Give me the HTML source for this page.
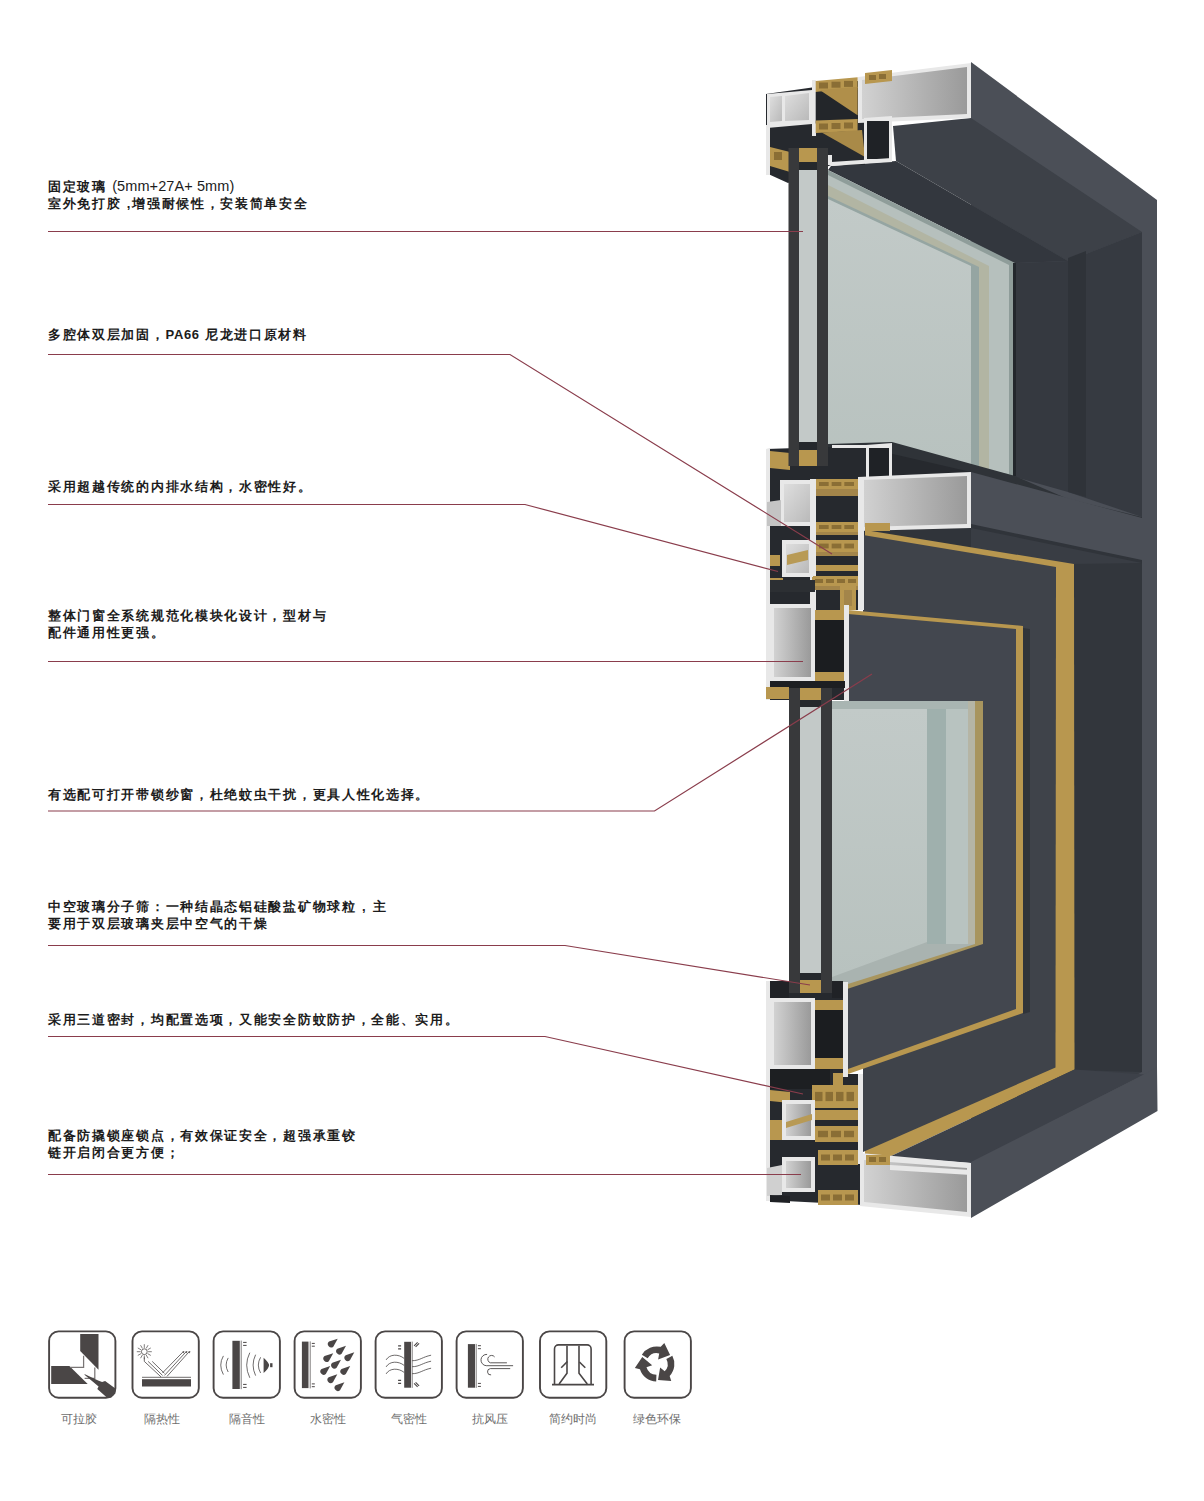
<!DOCTYPE html>
<html><head><meta charset="utf-8">
<style>
html,body{margin:0;padding:0;background:#fff;}
body{width:1204px;height:1501px;position:relative;overflow:hidden;font-family:"Liberation Sans",sans-serif;}
.t{position:absolute;left:48px;font-size:13px;font-weight:bold;color:#1c1c1c;line-height:17px;white-space:nowrap;letter-spacing:1.7px;}
.t span{font-weight:normal;letter-spacing:0.1px;font-size:14.5px;}
.lab{position:absolute;top:1410.5px;font-size:12px;color:#6e6e6e;white-space:nowrap;text-align:center;width:90px;line-height:16px;}
svg{position:absolute;left:0;top:0;}
</style></head><body>
<svg width="1204" height="1501" viewBox="0 0 1204 1501">
<g id="window">
<defs>
<linearGradient id="gw" x1="0" y1="0" x2="1" y2="1"><stop offset="0" stop-color="#dedede"/><stop offset="1" stop-color="#b9b9b9"/></linearGradient>
<linearGradient id="gb" x1="0" y1="0" x2="1" y2="0"><stop offset="0" stop-color="#d2d2d2"/><stop offset="0.6" stop-color="#b0b0b0"/><stop offset="1" stop-color="#9a9a9a"/></linearGradient>
<linearGradient id="gg" x1="0" y1="0" x2="0" y2="1"><stop offset="0" stop-color="#c2cac8"/><stop offset="1" stop-color="#b8c2bf"/></linearGradient>
</defs>
<polygon points="971,62 1157,200 1157,1109 971,1217" fill="#4b4f57" />
<polygon points="893,126 971,118 1142,232 1068,261 896,161" fill="#3d4148" />
<polygon points="831,166 896,161 1068,261 1015,263 828,170" fill="#33373e" />
<polygon points="1068,261 1142,232 1142,517 1068,492" fill="#363a41" />
<polygon points="1068,258 1086,251 1086,497 1068,492" fill="#2f3339" />
<polygon points="1015,263 1068,261 1068,492 1015,477" fill="#353940" />
<polygon points="828,170 1015,263 1015,476 828,445" fill="#8f9d9a" />
<polygon points="828,175 1009,265 1009,474 828,445" fill="#b6c0bd" />
<polygon points="828,185 989,266 989,470 828,445" fill="#b2b5a3" />
<polygon points="828,196 979,267 979,468 828,445" fill="#95a5a2" />
<polygon points="828,199 971,266 971,466 828,445" fill="url(#gg)" />
<rect x="1013" y="263" width="3" height="213" fill="#23272c" />
<polygon points="828,444 892,442 1015,476 1068,499 1142,517 1142,520 971,474 858,447 828,447" fill="#2f3338" />
<polygon points="971,472 1142,518 1157,518 1157,563 1142,563 971,528" fill="#4b4f57" />
<polygon points="856,526 971,524 1142,560 1142,600 856,560" fill="#30343a" />
<polygon points="971,528 1142,563 1142,1072 971,1163" fill="#393d44" />
<polygon points="1074,564 1142,563 1142,1072 1074,1070" fill="#32363c" />
<polygon points="865,530 1074,564 1074.5,1069.5 889,1157 865,1157" fill="#b8974f" />
<polygon points="863,535 1056,567 1055.5,1067.5 863,1152" fill="#3f434a" />
<polygon points="848,610 1023,626 1023,1013 848,1074" fill="#b8974f" />
<polygon points="848,614 1016,629 1016,1009 848,1069" fill="#43474f" />
<polygon points="1023,628 1030,629 1030,1012 1023,1014" fill="#30343a" />
<polygon points="832,701 983,701 983,944 832,994" fill="#a8955e" />
<polygon points="832,701 975,701 975,944 832,989" fill="#a9b3b0" />
<polygon points="968,701 975,701 975,944 968,944" fill="#b5b5a5" />
<polygon points="946,709 968,709 968,944 946,944" fill="#b8c3c0" />
<polygon points="927,709 946,709 946,944 927,944" fill="#9fb0ad" />
<polygon points="832,701 968,701 968,709 832,709" fill="#a9b5b2" />
<polygon points="832,709 927,709 927,942 832,977" fill="url(#gg)" />
<polygon points="889,1157 1074.5,1069.5 1144,1074.5 971,1163" fill="#3d4149" />
<polygon points="971,1162 1144,1074.5 1157,1067 1157.5,1111 971,1218" fill="#4b4f57" />
<polygon points="766,94 865,80 865,165 831,165 788,183 766,173" fill="#26292e" />
<polygon points="767,94 812,90 812,124 767,128" fill="#e8e8e8" />
<polygon points="770,97 782,96 782,121 770,122" fill="url(#gw)" />
<polygon points="785,96 809,93 809,120 785,121" fill="url(#gw)" />
<rect x="812" y="80" width="4" height="56" fill="#e8e8e8" />
<polygon points="815.7,81 857.6,77.3 857.6,90 815.7,92" fill="#b8974f" />
<rect x="819.0" y="82.5" width="9" height="6" fill="#8a6e35" />
<rect x="831.5" y="81.7" width="9" height="6" fill="#8a6e35" />
<rect x="844.0" y="80.9" width="9" height="6" fill="#8a6e35" />
<polygon points="815.7,92 857.6,88 857.6,121 815.7,123.5" fill="#23262a" />
<polygon points="819.7,90 857.6,86.7 857.6,115.3" fill="#b08f4a" />
<polygon points="815.7,120.6 857.6,119 857.6,131 815.7,133" fill="#b8974f" />
<rect x="819.0" y="123.5" width="9" height="6" fill="#8a6e35" />
<rect x="831.5" y="123.0" width="9" height="6" fill="#8a6e35" />
<rect x="844.0" y="122.5" width="9" height="6" fill="#8a6e35" />
<polygon points="821.7,132.6 862,130 865,157" fill="#a98a48" />
<polygon points="858,77 971,63 971,118 858,123" fill="#e8e8e8" />
<polygon points="862,80 967,67 967,114 862,119" fill="url(#gb)" />
<polygon points="865,73 892,70 892,81 865,84" fill="#b8974f" />
<rect x="869" y="75" width="7" height="5" fill="#8a6e35" />
<rect x="879" y="74" width="7" height="5" fill="#8a6e35" />
<polygon points="864,118 892,116 892,161 864,163" fill="#e8e8e8" />
<rect x="867" y="121" width="22" height="38" fill="#1f2226" />
<polygon points="831,162 892,158 892,162 831,166" fill="#e8e8e8" />
<rect x="828" y="155" width="4" height="10" fill="#e8e8e8" />
<rect x="766" y="125" width="4" height="50" fill="#e8e8e8" />
<polygon points="770,147 790,152 790,172 770,166" fill="#b8974f" />
<rect x="774" y="152" width="8" height="8" fill="#8a6e35" />
<polygon points="766,449 858,446 971,472 971,528 863,531 863,610 848,610 844,700 766,700" fill="#26292e" />
<rect x="766" y="449" width="4" height="251" fill="#e8e8e8" />
<polygon points="770,451 790,453 790,470 770,468" fill="#b8974f" />
<polygon points="866,445 892,443 892,485 866,485" fill="#e8e8e8" />
<rect x="869" y="448" width="20" height="34" fill="#1f2226" />
<polygon points="832,445 866,445 866,448 832,448" fill="#e8e8e8" />
<polygon points="858,477 971,472 971,528 858,531" fill="#e8e8e8" />
<polygon points="862,480 967,476 967,524 862,527" fill="url(#gb)" />
<polygon points="865,523 890,523 890,531 865,531" fill="#b8974f" />
<rect x="780" y="480" width="35" height="46" fill="#e8e8e8" />
<rect x="784" y="484" width="27" height="38" fill="url(#gw)" />
<rect x="810" y="479" width="6" height="131" fill="#e8e8e8" />
<rect x="858" y="477" width="6" height="133" fill="#e8e8e8" />
<rect x="816" y="479" width="42" height="10" fill="#b8974f" />
<rect x="819.0" y="482.0" width="9.666666666666666" height="4.0" fill="#8a6e35" />
<rect x="831.6666666666666" y="482.0" width="9.666666666666666" height="4.0" fill="#8a6e35" />
<rect x="844.3333333333334" y="482.0" width="9.666666666666666" height="4.0" fill="#8a6e35" />
<rect x="816" y="489" width="42" height="7" fill="#a3854a" />
<rect x="816" y="522" width="42" height="10" fill="#b8974f" />
<rect x="819.0" y="525.0" width="9.666666666666666" height="4.0" fill="#8a6e35" />
<rect x="831.6666666666666" y="525.0" width="9.666666666666666" height="4.0" fill="#8a6e35" />
<rect x="844.3333333333334" y="525.0" width="9.666666666666666" height="4.0" fill="#8a6e35" />
<rect x="816" y="532" width="42" height="3" fill="#a3854a" />
<rect x="816" y="540" width="42" height="12" fill="#b8974f" />
<rect x="819.0" y="543.6" width="9.666666666666666" height="4.800000000000001" fill="#8a6e35" />
<rect x="831.6666666666666" y="543.6" width="9.666666666666666" height="4.800000000000001" fill="#8a6e35" />
<rect x="844.3333333333334" y="543.6" width="9.666666666666666" height="4.800000000000001" fill="#8a6e35" />
<rect x="816" y="552" width="42" height="4" fill="#a3854a" />
<rect x="816" y="565" width="42" height="6" fill="#b8974f" />
<rect x="812" y="576" width="48" height="10" fill="#b8974f" />
<rect x="815.0" y="579.0" width="8.0" height="4.0" fill="#8a6e35" />
<rect x="826.0" y="579.0" width="8.0" height="4.0" fill="#8a6e35" />
<rect x="837.0" y="579.0" width="8.0" height="4.0" fill="#8a6e35" />
<rect x="848.0" y="579.0" width="8.0" height="4.0" fill="#8a6e35" />
<rect x="812" y="586" width="48" height="4" fill="#a3854a" />
<rect x="840" y="586" width="16" height="24" fill="#b8974f" />
<rect x="844" y="590" width="8" height="16" fill="#a3854a" />
<rect x="782" y="540" width="31" height="37" fill="#e8e8e8" />
<rect x="786" y="544" width="23" height="29" fill="url(#gw)" />
<polygon points="787,555 808,550 808,560 787,565" fill="#b89a55" />
<rect x="770" y="555" width="10" height="11" fill="#b8974f" />
<rect x="770" y="578" width="13" height="10" fill="#b8974f" />
<polygon points="767,502 781,500 781,526 767,526" fill="#c4c4c4" />
<rect x="770" y="580" width="45" height="12" fill="#2c2f33" />
<rect x="770" y="604" width="45" height="77" fill="#e8e8e8" />
<rect x="774" y="608" width="37" height="69" fill="url(#gb)" />
<rect x="815" y="610" width="29" height="71" fill="#1b1d20" />
<rect x="815" y="610" width="29" height="10" fill="#b8974f" />
<rect x="815" y="672" width="29" height="9" fill="#b8974f" />
<rect x="844" y="605" width="5" height="96" fill="#e8e8e8" />
<rect x="858" y="535" width="6" height="75" fill="#e8e8e8" />
<rect x="770" y="681" width="75" height="7" fill="#1d1f22" />
<rect x="766" y="687" width="23" height="12" fill="#b8974f" />
<polygon points="766,981 848,982 848,1074 863,1074 863,1205 766,1200" fill="#26292e" />
<rect x="766" y="981" width="4" height="220" fill="#e8e8e8" />
<rect x="770" y="981" width="19" height="17" fill="#202226" />
<rect x="832" y="981" width="11" height="17" fill="#202226" />
<rect x="770" y="998" width="45" height="71" fill="#e8e8e8" />
<rect x="774" y="1002" width="37" height="63" fill="url(#gb)" />
<rect x="815" y="1000" width="28" height="69" fill="#1b1d20" />
<rect x="815" y="1000" width="28" height="10" fill="#b8974f" />
<rect x="815" y="1058" width="28" height="11" fill="#b8974f" />
<rect x="843" y="982" width="5" height="95" fill="#e8e8e8" />
<rect x="858" y="1074" width="5" height="90" fill="#e8e8e8" />
<rect x="770" y="1069" width="60" height="20" fill="#1d1f22" />
<rect x="812" y="1085" width="46" height="23" fill="#b8974f" />
<rect x="815.0" y="1091.9" width="7.5" height="9.200000000000001" fill="#8a6e35" />
<rect x="825.5" y="1091.9" width="7.5" height="9.200000000000001" fill="#8a6e35" />
<rect x="836.0" y="1091.9" width="7.5" height="9.200000000000001" fill="#8a6e35" />
<rect x="846.5" y="1091.9" width="7.5" height="9.200000000000001" fill="#8a6e35" />
<rect x="833" y="1073" width="10" height="14" fill="#b8974f" />
<polygon points="770,1090 790,1092 790,1103 770,1101" fill="#b8974f" />
<rect x="782" y="1100" width="33" height="40" fill="#e8e8e8" />
<rect x="786" y="1104" width="25" height="32" fill="url(#gb)" />
<polygon points="786,1122 812,1114 812,1120 786,1128" fill="#b89a55" />
<rect x="815" y="1110" width="43" height="10" fill="#b8974f" />
<rect x="815" y="1126" width="43" height="16" fill="#b8974f" />
<rect x="818.0" y="1130.8" width="10.0" height="6.4" fill="#8a6e35" />
<rect x="831.0" y="1130.8" width="10.0" height="6.4" fill="#8a6e35" />
<rect x="844.0" y="1130.8" width="10.0" height="6.4" fill="#8a6e35" />
<rect x="818" y="1150" width="40" height="15" fill="#b8974f" />
<rect x="821.0" y="1154.5" width="9.0" height="6.0" fill="#8a6e35" />
<rect x="833.0" y="1154.5" width="9.0" height="6.0" fill="#8a6e35" />
<rect x="845.0" y="1154.5" width="9.0" height="6.0" fill="#8a6e35" />
<rect x="770" y="1120" width="12" height="20" fill="#b8974f" />
<rect x="782" y="1157" width="33" height="35" fill="#e8e8e8" />
<rect x="786" y="1161" width="25" height="27" fill="url(#gb)" />
<rect x="818" y="1190" width="40" height="15" fill="#b8974f" />
<rect x="821.0" y="1194.5" width="9.0" height="6.0" fill="#8a6e35" />
<rect x="833.0" y="1194.5" width="9.0" height="6.0" fill="#8a6e35" />
<rect x="845.0" y="1194.5" width="9.0" height="6.0" fill="#8a6e35" />
<polygon points="767,1168 782,1165 782,1195 767,1196" fill="#d0d0d0" />
<polygon points="770,1195 790,1196 790,1203 770,1202" fill="#1f2125" />
<polygon points="860,1153 971,1163 971,1217 860,1206" fill="#e8e8e8" />
<polygon points="864,1160 967,1168 967,1212 864,1202" fill="url(#gb)" />
<rect x="866" y="1155" width="24" height="10" fill="#b8974f" />
<rect x="869" y="1157" width="7" height="5" fill="#8a6e35" />
<rect x="879" y="1157" width="7" height="5" fill="#8a6e35" />
<polygon points="890,1165 971,1170 971,1175 890,1170" fill="#e8e8e8" />
<rect x="788.5" y="148" width="10.5" height="318" fill="#38393b" />
<rect x="817" y="148" width="11" height="318" fill="#38393b" />
<rect x="799" y="170" width="18" height="272" fill="#c3c9c8" />
<rect x="799" y="148" width="18" height="14" fill="#b8974f" />
<rect x="799" y="162" width="18" height="8" fill="#25282c" />
<rect x="799" y="442" width="18" height="8" fill="#25282c" />
<rect x="799" y="450" width="18" height="16" fill="#b8974f" />
<rect x="789" y="688" width="11" height="305" fill="#38393b" />
<rect x="821" y="688" width="11" height="305" fill="#38393b" />
<rect x="800" y="707" width="21" height="266" fill="#c3c9c8" />
<rect x="800" y="688" width="21" height="12" fill="#b8974f" />
<rect x="800" y="700" width="21" height="7" fill="#25282c" />
<rect x="800" y="973" width="21" height="7" fill="#25282c" />
<rect x="800" y="980" width="21" height="13" fill="#b8974f" />
</g>
<g id="leaders" stroke="#8a3d4c" stroke-width="1.2" fill="none">
<polyline points="48,231.5 803,231.5"/>
<polyline points="48,354.5 510,354.5 832,554"/>
<polyline points="48,504.5 525,504.5 778,571.5"/>
<polyline points="48,661.5 803,661.5"/>
<polyline points="48,811 654.5,811 872,674"/>
<polyline points="48,945.5 565,945.5 810,985"/>
<polyline points="48,1036.5 545,1036.5 803,1094"/>
<polyline points="48,1174.5 801,1174.5"/>
</g>
<g id="icons">
<g transform="translate(48.1,1330.4)"><rect x="1" y="1" width="66.3" height="66.3" rx="9.5" ry="9.5" fill="none" stroke="#4a4646" stroke-width="1.9"/><polygon points="32.1,3.7 50.4,3.7 50.4,39.4 32.1,20.6" fill="#4a4646"/>
<polygon points="3.1,35.7 21.3,35.7 39.6,53.6 3.1,53.6" fill="#4a4646"/>
<polyline points="22.2,36.9 35.5,36.9 35.5,25.4" fill="none" stroke="#7a7676" stroke-width="1.25"/>
<polyline points="46.7,37 46.7,48 36.5,48" fill="none" stroke="#7a7676" stroke-width="1.25"/>
<polygon points="36.3,43.6 50,50 54,51.5 57,50.5 67.3,58 67.3,63 63,67.3 59,67.3 49.2,58.5 50.5,56 36.7,44.6" fill="#4a4646"/></g>
<g transform="translate(131.5,1330.4)"><rect x="1" y="1" width="66.3" height="66.3" rx="9.5" ry="9.5" fill="none" stroke="#4a4646" stroke-width="1.9"/><circle cx="12.8" cy="21.3" r="2.9" fill="none" stroke="#4a4646" stroke-width="0.8"/><line x1="16.6" y1="21.3" x2="20.3" y2="21.3" stroke="#4a4646" stroke-width="0.7"/><line x1="16.09089737468398" y1="23.199998544551573" x2="19.295192186876278" y2="25.049997127404417" stroke="#4a4646" stroke-width="0.7"/><line x1="14.700002910895742" y1="24.59089485377271" x2="16.550005745188965" y2="27.795187211393507" stroke="#4a4646" stroke-width="0.7"/><line x1="12.80000504182061" y1="25.099999999996655" x2="12.800009950961728" y2="28.7999999999934" stroke="#4a4646" stroke-width="0.7"/><line x1="10.900005821795943" y1="24.590899895589455" x2="9.050011490386732" y2="27.795197162347613" stroke="#4a4646" stroke-width="0.7"/><line x1="9.509107667144352" y1="23.200007277236566" x2="6.304817764100695" y2="25.050014362966905" stroke="#4a4646" stroke-width="0.7"/><line x1="9.00000000001338" y1="21.30001008364122" x2="5.300000000026406" y2="21.300019901923456" stroke="#4a4646" stroke-width="0.7"/><line x1="9.509097583510862" y1="19.400010188146805" x2="6.3047978621924905" y2="17.55002010818448" stroke="#4a4646" stroke-width="0.7"/><line x1="10.899988356425952" y1="18.00911018806721" x2="9.049977019261748" y2="14.804822739606333" stroke="#4a4646" stroke-width="0.7"/><line x1="12.79998487453818" y1="17.500000000030102" x2="12.799970147114829" y2="13.800000000059413" stroke="#4a4646" stroke-width="0.7"/><line x1="14.699985445498996" y1="18.009095062616975" x2="16.549971274011174" y2="14.804792886744025" stroke="#4a4646" stroke-width="0.7"/><line x1="16.090887291004144" y1="19.39998399009182" x2="19.2951722848766" y2="17.54996840149701" stroke="#4a4646" stroke-width="0.7"/>
<polyline points="12.8,27 12.8,31 29.5,46.5" fill="none" stroke="#4a4646" stroke-width="0.8"/>
<line x1="16.6" y1="31" x2="31" y2="45" stroke="#4a4646" stroke-width="0.8"/>
<line x1="20.7" y1="31" x2="33" y2="43" stroke="#4a4646" stroke-width="0.8"/>
<line x1="31" y1="42.5" x2="51.5" y2="21.5" stroke="#4a4646" stroke-width="0.8"/>
<line x1="33" y1="45" x2="54.5" y2="21.5" stroke="#4a4646" stroke-width="0.8"/>
<line x1="35.5" y1="46" x2="57.5" y2="21.5" stroke="#4a4646" stroke-width="0.8"/>
<polygon points="51,20.5 53,21 52,23" fill="#4a4646"/><polygon points="54,20.5 56,21 55,23" fill="#4a4646"/><polygon points="57,20.5 59,21 58,23" fill="#4a4646"/>
<line x1="10.5" y1="46.9" x2="59.5" y2="46.9" stroke="#4a4646" stroke-width="0.8"/>
<rect x="10.5" y="48.8" width="49" height="7.3" fill="#4a4646"/></g>
<g transform="translate(212.6,1330.4)"><rect x="1" y="1" width="66.3" height="66.3" rx="9.5" ry="9.5" fill="none" stroke="#4a4646" stroke-width="1.9"/><rect x="19.8" y="10.4" width="7.4" height="48.2" fill="#4a4646"/>
<line x1="28.6" y1="10.2" x2="28.6" y2="58.8" stroke="#4a4646" stroke-width="0.7"/>
<path d="M30.5,12 h3.5 M30.5,15 h3.5 M30.5,54 h3.5 M30.5,57 h3.5" stroke="#4a4646" stroke-width="1"/>
<path d="M10.8,25.5 Q5.5,34.6 10.8,44.2 M15.6,27.5 Q11.5,34.6 15.6,41.6" fill="none" stroke="#4a4646" stroke-width="0.8"/>
<path d="M37.2,22.3 Q31,34.6 37.2,47.4 M43,24.3 Q38,34.6 43,45.2 M48,26.9 Q43.5,34.6 48,42.6" fill="none" stroke="#4a4646" stroke-width="0.8"/>
<path d="M51,27.4 Q57,33 56.5,35 Q56,38 51,42.6 Z" fill="#4a4646"/>
<rect x="57.5" y="32.8" width="2.4" height="4" fill="#4a4646"/></g>
<g transform="translate(293.6,1330.4)"><rect x="1" y="1" width="66.3" height="66.3" rx="9.5" ry="9.5" fill="none" stroke="#4a4646" stroke-width="1.9"/><rect x="8.3" y="11.2" width="6.6" height="46.5" fill="#4a4646"/>
<line x1="16.6" y1="11" x2="16.6" y2="58" stroke="#4a4646" stroke-width="0.7"/>
<path d="M18.2,13 h3 M18.2,15.8 h3 M18.2,53.5 h3 M18.2,56.3 h3" stroke="#4a4646" stroke-width="1"/><path d="M39.72,16.23 A3.3,3.3 0 1 1 35.48,11.17 L44.11,8.24 Z" fill="#4a4646"/><path d="M48.02,23.33 A3.3,3.3 0 1 1 43.78,18.27 L52.41,15.34 Z" fill="#4a4646"/><path d="M35.22,30.73 A3.3,3.3 0 1 1 30.98,25.67 L39.61,22.74 Z" fill="#4a4646"/><path d="M56.32,29.93 A3.3,3.3 0 1 1 52.08,24.87 L60.71,21.94 Z" fill="#4a4646"/><path d="M43.02,37.43 A3.3,3.3 0 1 1 38.78,32.37 L47.41,29.44 Z" fill="#4a4646"/><path d="M32.22,43.63 A3.3,3.3 0 1 1 27.98,38.57 L36.61,35.64 Z" fill="#4a4646"/><path d="M52.22,43.63 A3.3,3.3 0 1 1 47.98,38.57 L56.61,35.64 Z" fill="#4a4646"/><path d="M39.32,51.93 A3.3,3.3 0 1 1 35.08,46.87 L43.71,43.94 Z" fill="#4a4646"/><path d="M46.42,59.83 A3.3,3.3 0 1 1 42.18,54.77 L50.81,51.84 Z" fill="#4a4646"/></g>
<g transform="translate(374.6,1330.4)"><rect x="1" y="1" width="66.3" height="66.3" rx="9.5" ry="9.5" fill="none" stroke="#4a4646" stroke-width="1.9"/><rect x="29.6" y="11.4" width="6.8" height="45.9" fill="#4a4646"/>
<line x1="37.6" y1="11.2" x2="37.6" y2="57.5" stroke="#4a4646" stroke-width="0.7"/>
<path d="M23.5,15.5 h3 M23.5,18.5 h3 M23.5,50 h3 M23.5,53 h3" stroke="#4a4646" stroke-width="1.1"/>
<path d="M39.5,15.5 l3.5,-3.5 M41,16.5 l3.5,-3.5 M39.5,53 l3.5,3.5 M41,52 l3.5,3.5" stroke="#4a4646" stroke-width="1.1"/><path d="M11.5,29.5 C15,23.5 24,23.5 29.5,28" fill="none" stroke="#4a4646" stroke-width="0.8"/><path d="M11.5,36.5 C15,30.5 24,30.5 29.5,35" fill="none" stroke="#4a4646" stroke-width="0.8"/><path d="M11.5,43.5 C15,37.5 24,37.5 29.5,42" fill="none" stroke="#4a4646" stroke-width="0.8"/><path d="M37.5,30.3 C45,30.3 48,26.5 56.5,24.8" fill="none" stroke="#4a4646" stroke-width="0.8"/><path d="M37.5,36.3 C45,36.3 48,32.5 56.5,30.8" fill="none" stroke="#4a4646" stroke-width="0.8"/><path d="M37.5,43.3 C45,43.3 48,39.5 56.5,37.8" fill="none" stroke="#4a4646" stroke-width="0.8"/></g>
<g transform="translate(455.6,1330.4)"><rect x="1" y="1" width="66.3" height="66.3" rx="9.5" ry="9.5" fill="none" stroke="#4a4646" stroke-width="1.9"/><rect x="12.3" y="13.7" width="7.1" height="43.6" fill="#4a4646"/>
<line x1="20.6" y1="13.5" x2="20.6" y2="57.5" stroke="#4a4646" stroke-width="0.7"/>
<path d="M22.3,15.3 h3 M22.3,18.3 h3 M22.3,53 h3 M22.3,56 h3" stroke="#4a4646" stroke-width="1"/>
<path d="M31.5,24 A4.8,4.8 0 0 0 30.6,35.3" fill="none" stroke="#4a4646" stroke-width="0.9"/>
<path d="M39,26.5 A3.8,3.8 0 1 0 34.7,32.4" fill="none" stroke="#4a4646" stroke-width="0.9"/>
<path d="M34.7,32.4 H51.3 M30.6,35.3 H57.5 M34.7,38.2 H54.6" stroke="#4a4646" stroke-width="0.9"/>
<path d="M34.7,38.2 A3,3 0 0 0 35.5,44.5" fill="none" stroke="#4a4646" stroke-width="0.9"/></g>
<g transform="translate(539.0,1330.4)"><rect x="1" y="1" width="66.3" height="66.3" rx="9.5" ry="9.5" fill="none" stroke="#4a4646" stroke-width="1.9"/><path d="M15.5,54 V18.5 A4,4 0 0 1 19.5,14.5 H48.1 A4,4 0 0 1 52.1,18.5 V54" fill="none" stroke="#4a4646" stroke-width="1.6"/>
<line x1="13" y1="54.2" x2="55" y2="54.2" stroke="#4a4646" stroke-width="1.6"/>
<polyline points="28,15.3 28,42.8 20.1,53.6" fill="none" stroke="#4a4646" stroke-width="1.6"/>
<line x1="22.2" y1="37.4" x2="28.4" y2="31.1" stroke="#4a4646" stroke-width="1.6"/>
<polyline points="40,15.3 40,42.8 48.3,53.6" fill="none" stroke="#4a4646" stroke-width="1.6"/>
<line x1="40.4" y1="31.6" x2="46.3" y2="37.4" stroke="#4a4646" stroke-width="1.6"/></g>
<g transform="translate(623.6,1330.4)"><rect x="1" y="1" width="66.3" height="66.3" rx="9.5" ry="9.5" fill="none" stroke="#4a4646" stroke-width="1.9"/><path d="M24.04,27.88 L18.27,24.27 A17.6,17.6 0 0 1 37.16,16.45 L40.70,12.60 L46.50,24.50 L34.50,29.00 L35.63,23.08 A10.8,10.8 0 0 0 24.04,27.88 Z" fill="#4a4646"/><path d="M42.74,28.53 L48.74,25.34 A17.6,17.6 0 0 1 46.07,45.60 L47.64,50.60 L34.43,49.67 L36.53,37.03 L41.10,40.97 A10.8,10.8 0 0 0 42.74,28.53 Z" fill="#4a4646"/><path d="M32.82,44.39 L32.59,51.19 A17.6,17.6 0 0 1 16.37,38.75 L11.26,37.60 L18.67,26.63 L28.57,34.77 L22.87,36.76 A10.8,10.8 0 0 0 32.82,44.39 Z" fill="#4a4646"/></g>
</g>
</svg>
<div class="t" style="top:178px">固定玻璃 <span>(5mm+27A+ 5mm)</span><br>室外免打胶 ,增强耐候性，安装简单安全</div>
<div class="t" style="top:326px">多腔体双层加固，<b style="letter-spacing:0.6px">PA66</b> 尼龙进口原材料</div>
<div class="t" style="top:478px">采用超越传统的内排水结构，水密性好。</div>
<div class="t" style="top:607px">整体门窗全系统规范化模块化设计，型材与<br>配件通用性更强。</div>
<div class="t" style="top:786px">有选配可打开带锁纱窗，杜绝蚊虫干扰，更具人性化选择。</div>
<div class="t" style="top:898px">中空玻璃分子筛：一种结晶态铝硅酸盐矿物球粒 , 主<br>要用于双层玻璃夹层中空气的干燥</div>
<div class="t" style="top:1011px">采用三道密封，均配置选项，又能安全防蚊防护，全能、实用。</div>
<div class="t" style="top:1127px">配备防撬锁座锁点，有效保证安全，超强承重铰<br>链开启闭合更方便；</div>
<div class="lab" style="left:34px">可拉胶</div>
<div class="lab" style="left:117px">隔热性</div>
<div class="lab" style="left:202px">隔音性</div>
<div class="lab" style="left:283px">水密性</div>
<div class="lab" style="left:364px">气密性</div>
<div class="lab" style="left:445px">抗风压</div>
<div class="lab" style="left:528px">简约时尚</div>
<div class="lab" style="left:612px">绿色环保</div>
</body></html>
